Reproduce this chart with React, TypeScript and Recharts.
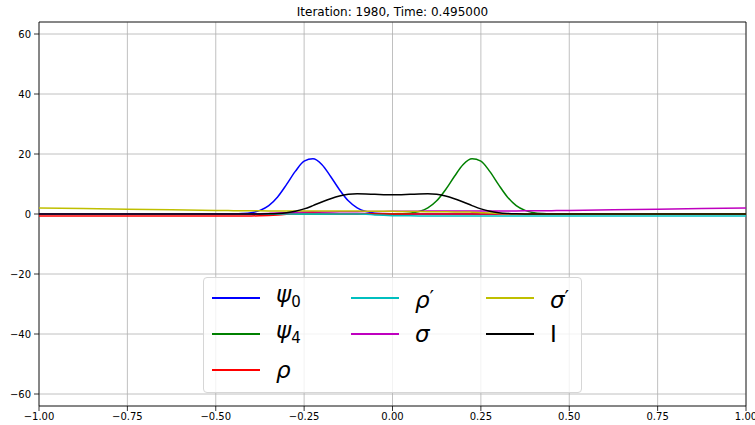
import { LineChart, Line, XAxis, YAxis, CartesianGrid, ReferenceArea } from "recharts";

// x samples (denser around the pulses)
const xs = [
  -1, -0.75, -0.5,
  -0.45, -0.425, -0.4, -0.375, -0.35, -0.325, -0.3, -0.275, -0.25, -0.225, -0.2, -0.175, -0.15, -0.125, -0.1, -0.075, -0.05, -0.025,
  0,
  0.025, 0.05, 0.075, 0.1, 0.125, 0.15, 0.175, 0.2, 0.225, 0.25, 0.275, 0.3, 0.325, 0.35, 0.375, 0.4, 0.425, 0.45,
  0.5, 0.75, 1,
];

const psi0 = [
  0, 0, 0,
  0.03, 0.13, 0.43, 1.2, 2.8, 5.7, 9.8, 14.2, 17.6, 18.4, 16.5, 12.5, 8.1, 4.4, 2.05, 0.81, 0.27, 0.08,
  0.02,
  0, 0, 0, 0, 0, 0, 0, 0, 0, 0, 0, 0, 0, 0, 0, 0, 0, 0,
  0, 0, 0,
];

const psi4 = [
  0, 0, 0,
  0, 0, 0, 0, 0, 0, 0, 0, 0, 0, 0, 0, 0, 0, 0, 0, 0, 0,
  0.02,
  0.08, 0.27, 0.81, 2.05, 4.4, 8.1, 12.5, 16.5, 18.4, 17.6, 14.2, 9.8, 5.7, 2.8, 1.2, 0.43, 0.13, 0.03,
  0, 0, 0,
];

const rho = [
  -0.7, -0.7, -0.68,
  -0.67, -0.66, -0.64, -0.6, -0.52, -0.35, -0.1, 0.2, 0.4, 0.45, 0.35, 0.2, 0.1, 0.05, 0.02, 0, 0, 0,
  0,
  0, 0, 0, 0, 0, 0, 0, 0, 0, 0, 0, 0, 0, 0, 0, 0, 0, 0,
  0, 0, 0,
];

const rhoPrime = [
  0, 0, 0,
  0, 0, 0, 0, 0, 0, 0, 0, 0, 0, 0, 0, 0, 0, 0, -0.1, -0.3, -0.45,
  -0.55,
  -0.6, -0.62, -0.63, -0.64, -0.64, -0.65, -0.65, -0.65, -0.66, -0.66, -0.66, -0.66, -0.67, -0.67, -0.67, -0.67, -0.67, -0.67,
  -0.68, -0.7, -0.7,
];

const sigma = [
  0, 0, 0.02,
  0.03, 0.05, 0.08, 0.12, 0.2, 0.3, 0.45, 0.6, 0.7, 0.72, 0.7, 0.7, 0.72, 0.75, 0.78, 0.8, 0.82, 0.85,
  0.88,
  0.9, 0.92, 0.95, 0.97, 0.98, 1.0, 1.0, 1.0, 1.0, 1.0, 1.0, 1.0, 1.02, 1.04, 1.06, 1.08, 1.1, 1.12,
  1.2, 1.6, 2.0,
];

const sigmaPrime = [
  2.0, 1.6, 1.2,
  1.12, 1.1, 1.08, 1.06, 1.04, 1.02, 1.0, 1.0, 1.0, 1.0, 1.0, 1.0, 1.0, 0.98, 0.97, 0.95, 0.92, 0.9,
  0.88,
  0.85, 0.82, 0.8, 0.78, 0.75, 0.72, 0.7, 0.7, 0.6, 0.45, 0.3, 0.2, 0.12, 0.08, 0.05, 0.03, 0.02, 0.02,
  0.02, 0, 0,
];

const intensity = [
  0, 0, 0,
  0, 0, 0.01, 0.02, 0.06, 0.17, 0.42, 0.9, 1.7, 2.8, 4.0, 5.1, 6.0, 6.55, 6.75, 6.7, 6.55, 6.45,
  6.4,
  6.45, 6.55, 6.7, 6.75, 6.55, 6.0, 5.1, 4.0, 2.8, 1.7, 0.9, 0.42, 0.17, 0.06, 0.02, 0.01, 0, 0,
  0, 0, 0,
];

const X_TICKS = [-1, -0.75, -0.5, -0.25, 0, 0.25, 0.5, 0.75, 1];
const Y_TICKS = [-60, -40, -20, 0, 20, 40, 60];

const TITLE = "Iteration: 1980, Time: 0.495000";

const SERIES = [
  { key: "psi0", color: "#0000ff", values: psi0 },
  { key: "psi4", color: "#008000", values: psi4 },
  { key: "rho", color: "#ff0000", values: rho },
  { key: "rhoPrime", color: "#00bfbf", values: rhoPrime },
  { key: "sigma", color: "#bf00bf", values: sigma },
  { key: "sigmaPrime", color: "#bfbf00", values: sigmaPrime },
  { key: "intensity", color: "#000000", values: intensity },
];

const data = xs.map((x, i) => {
  const row: Record<string, number> = { x };
  SERIES.forEach((s) => {
    row[s.key] = s.values[i];
  });
  return row;
});

const fmtX = (v: number) => (v < 0 ? "\u2212" + Math.abs(v).toFixed(2) : v.toFixed(2));
const fmtY = (v: number) => (v < 0 ? "\u2212" + Math.abs(v) : String(v));

const FONT = "'DejaVu Sans', sans-serif";

const sub = (t: string) => <span style={{ fontStyle: "normal", fontSize: 15, verticalAlign: -5 }}>{t}</span>;
const prime = <span style={{ fontStyle: "normal", fontSize: 20, verticalAlign: 4 }}>′</span>;

// legend entries, laid out column by column like matplotlib
const LEGEND = [
  { color: "#0000ff", label: <>ψ{sub("0")}</>, col: 0, row: 0 },
  { color: "#008000", label: <>ψ{sub("4")}</>, col: 0, row: 1 },
  { color: "#ff0000", label: <>ρ</>, col: 0, row: 2 },
  { color: "#00bfbf", label: <>ρ{prime}</>, col: 1, row: 0 },
  { color: "#bf00bf", label: <>σ</>, col: 1, row: 1 },
  { color: "#bfbf00", label: <>σ{prime}</>, col: 2, row: 0 },
  { color: "#000000", label: <span style={{ fontStyle: "normal" }}>I</span>, col: 2, row: 1 },
];
const COL_X = [8, 147, 282];

export default function App() {
  return (
    <div style={{ position: "absolute", left: 0, top: 0, width: 755, height: 425, background: "#fff", fontFamily: FONT }}>
      <div
        style={{
          position: "absolute",
          left: 39,
          width: 707,
          top: 5,
          textAlign: "center",
          fontSize: 12,
          color: "#000",
          zIndex: 2,
        }}
      >
        {TITLE}
      </div>

      <LineChart width={755} height={425} data={data} margin={{ top: 22, right: 9, bottom: 0, left: 0 }}>
        <CartesianGrid stroke="#b0b0b0" strokeWidth={0.8} />
        <XAxis
          dataKey="x"
          type="number"
          domain={[-1, 1]}
          ticks={X_TICKS}
          tickFormatter={fmtX}
          height={19}
          axisLine={false}
          tickSize={5}
          tickLine={{ stroke: "#000", strokeWidth: 0.8 }}
          tick={{ fill: "#000", fontSize: 10, fontFamily: FONT }}
          allowDataOverflow
        />
        <YAxis
          type="number"
          domain={[-64, 64]}
          ticks={Y_TICKS}
          tickFormatter={fmtY}
          width={39}
          axisLine={false}
          tickSize={5}
          tickMargin={3}
          tickLine={{ stroke: "#000", strokeWidth: 0.8 }}
          tick={{ fill: "#000", fontSize: 10, fontFamily: FONT }}
          allowDataOverflow
        />
        {SERIES.map((s) => (
          <Line
            key={s.key}
            dataKey={s.key}
            type="monotone"
            stroke={s.color}
            strokeWidth={1.5}
            dot={false}
            activeDot={false}
            isAnimationActive={false}
          />
        ))}
        <ReferenceArea x1={-1} x2={1} y1={-64} y2={64} fill="none" stroke="#000" strokeWidth={0.8} fillOpacity={0} />
      </LineChart>

      <div
        style={{
          position: "absolute",
          left: 203,
          top: 277,
          width: 379,
          height: 116,
          border: "1px solid #d6d6d6",
          borderRadius: 4,
          background: "rgba(255,255,255,0.8)",
          boxSizing: "border-box",
        }}
      >
        {LEGEND.map((e, i) => (
          <div key={i} style={{ position: "absolute", left: COL_X[e.col], top: 6 + e.row * 36, height: 28, display: "flex", alignItems: "center" }}>
            <div style={{ width: 48, height: 1.5, background: e.color }} />
            <span style={{ marginLeft: 16, fontSize: 23, fontStyle: "italic", color: "#000", lineHeight: "28px", whiteSpace: "nowrap" }}>
              {e.label}
            </span>
          </div>
        ))}
      </div>
    </div>
  );
}
